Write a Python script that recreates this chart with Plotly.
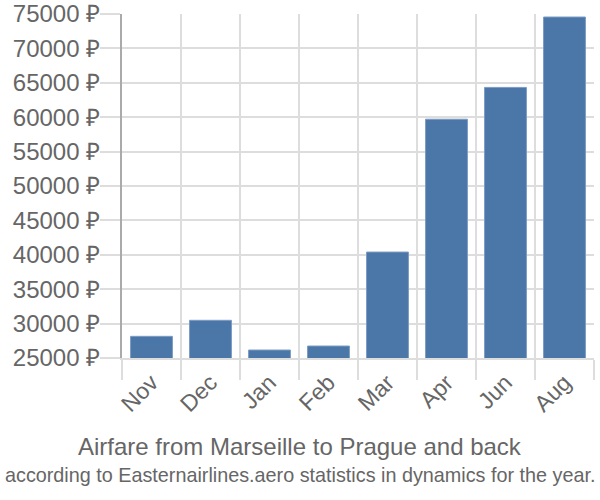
import plotly.graph_objects as go

months = ["Nov", "Dec", "Jan", "Feb", "Mar", "Apr", "Jun", "Aug"]
prices = [28150, 30480, 26160, 26740, 40400, 59710, 64330, 74560]
y_ticks = [25000, 30000, 35000, 40000, 45000, 50000, 55000, 60000, 65000, 70000, 75000]
y_tick_labels = [f"{v} ₽" for v in y_ticks]
title_text = "Airfare from Marseille to Prague and back"
subtitle_text = "according to Easternairlines.aero statistics in dynamics for the year."

fig = go.Figure(go.Bar(
    x=months, y=prices,
    marker=dict(color="#4a77a8", line=dict(color="#7d9cc4", width=1)),
))

font = "Liberation Sans, Arial, sans-serif"
W, H = 600, 500
L, T = 122, 14
PW, PH = 472, 344
R = W - L - PW
B = H - T - PH
fig.update_layout(
    width=W, height=H,
    margin=dict(l=L, r=R, t=T, b=B, autoexpand=False),
    paper_bgcolor="white", plot_bgcolor="white",
    bargap=0.29,
    showlegend=False,
    font=dict(family=font, color="#666666"),
    xaxis=dict(
        type="category", tickson="boundaries", automargin=False,
        ticks="outside", ticklen=20, tickcolor="#dddddd", tickwidth=2,
        showgrid=True, gridcolor="#dddddd", gridwidth=2,
        tickangle=-45, tickfont=dict(size=23, color="#666666"),
        showline=True, linecolor="#dddddd", linewidth=2,
    ),
    yaxis=dict(
        range=[25000, 75000], automargin=False, ticklabeloverflow="allow",
        tickvals=y_ticks, ticktext=y_tick_labels, ticklabelstandoff=-5,
        ticks="outside", ticklen=20, tickcolor="#dddddd", tickwidth=2,
        showgrid=True, gridcolor="#dddddd", gridwidth=2,
        tickfont=dict(size=24, color="#666666"),
        showline=True, linecolor="#aaaaaa", linewidth=2,
        zeroline=False,
    ),
)
cx = (300 - L) / PW
fig.add_annotation(text=title_text, x=cx, y=(T + PH - 446) / PH, yanchor="middle",
                   xref="paper", yref="paper", showarrow=False,
                   font=dict(size=24, color="#666666", family=font))
fig.add_annotation(text=subtitle_text, x=cx, y=(T + PH - 475) / PH, yanchor="middle",
                   xref="paper", yref="paper", showarrow=False,
                   font=dict(size=19.8, color="#666666", family=font))

fig.write_html("out.html", config={"displayModeBar": False},
               post_script="document.body.style.margin='0';")
